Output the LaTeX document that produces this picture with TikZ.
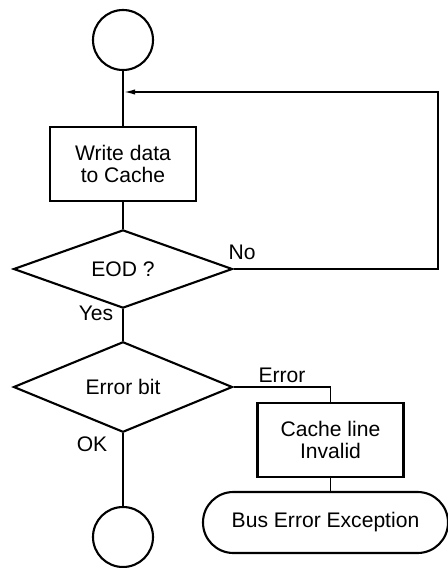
\documentclass[tikz,border=0pt]{standalone}
\usepackage{fontspec}
\setmainfont{Liberation Sans}
\usetikzlibrary{positioning,arrows.meta,calc,shapes.geometric}

\begin{document}
\begin{tikzpicture}[
  >={Latex[length=0.3cm,width=0.13cm]},
  font=\fontsize{15}{16.2}\selectfont,
  every node/.style={inner sep=0pt},
  connector/.style={line width=1.3pt},
  terminal/.style={draw, circle, line width=1.5pt, minimum size=1.5cm},
  process/.style={draw, rectangle, line width=1.5pt, minimum width=3.65cm, minimum height=1.85cm, align=center},
  decision/.style={draw, diamond, line width=1.5pt, minimum width=5.475cm, minimum height=1.85cm, align=center},
  exception/.style={draw, rectangle, rounded corners=0.76cm, line width=1.5pt, minimum width=6.125cm, minimum height=1.525cm, align=center}
]
\useasboundingbox (0,0) rectangle (11.2,-14.2);

\node[terminal] (start) at (3.075,-1.0) {};
\node[process] (write) at (3.075,-4.1) {Write data\\to Cache};
\node[decision] (eod) at (3.075,-6.725) {EOD ?};
\node[decision] (errbit) at (3.075,-9.675) {Error bit};
\node[process] (inval) at (8.2625,-11.0) {Cache line\\Invalid};
\node[exception] (buserr) at (8.1375,-13.0625) {Bus Error Exception};
\node[terminal] (stop) at (3.075,-13.425) {};

\coordinate (loopin) at (3.075,-2.3);
\coordinate (loopout) at (10.95,-2.3);

% main flow
\draw[connector] (start) -- (write);
\draw[connector] (write) -- (eod);
\draw[connector] (eod) -- (errbit);
\draw[connector] (errbit) -- (stop);

% loop back when not done
\draw[connector, ->] (eod.east) -- (eod.east -| loopout) -- (loopout) -- (loopin);

% error branch
\draw[connector] (errbit.east) -| (inval.north);
\draw[connector] (inval.south) -- (inval.south |- buserr.north);

\node (no) at (6.05,-6.3) {No};
\node (yes) at (2.4,-7.83) {Yes};
\node (err) at (7.05,-9.375) {Error};
\node (ok) at (2.3,-11.1) {OK};

\end{tikzpicture}
\end{document}
